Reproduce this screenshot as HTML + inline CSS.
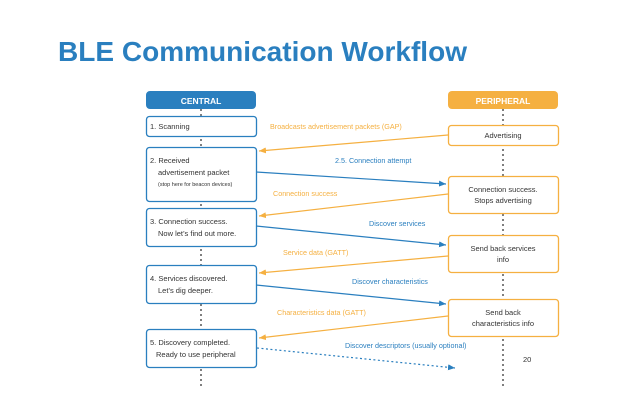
<!DOCTYPE html>
<html><head><meta charset="utf-8"><style>
html,body{margin:0;padding:0;background:#fff;}
svg{display:block;font-family:"Liberation Sans",sans-serif;}
</style></head><body>
<svg width="640" height="408" viewBox="0 0 640 408" xmlns="http://www.w3.org/2000/svg">
<defs>
<marker id="ab" markerWidth="8" markerHeight="8" refX="7" refY="4" orient="auto" markerUnits="userSpaceOnUse"><path d="M0,1 L7,4 L0,7 z" fill="#2a7fbf"/></marker>
<marker id="ao" markerWidth="8" markerHeight="8" refX="7" refY="4" orient="auto" markerUnits="userSpaceOnUse"><path d="M0,1 L7,4 L0,7 z" fill="#f5b041"/></marker>
</defs>
<text x="58" y="61" font-size="28" font-weight="bold" fill="#2a7fbf" textLength="409" lengthAdjust="spacingAndGlyphs">BLE Communication Workflow</text>
<line x1="201" y1="109" x2="201" y2="386" stroke="#555" stroke-width="1.5" stroke-dasharray="2,3"/>
<line x1="503" y1="109" x2="503" y2="386" stroke="#555" stroke-width="1.5" stroke-dasharray="2,3"/>
<rect x="146" y="91" width="110" height="18" rx="4" fill="#2a7fbf"/>
<text x="201" y="104" font-size="8.5" font-weight="bold" fill="#fff" text-anchor="middle">CENTRAL</text>
<rect x="448" y="91" width="110" height="18" rx="4" fill="#f5b041"/>
<text x="503" y="104" font-size="8.5" font-weight="bold" fill="#fff" text-anchor="middle">PERIPHERAL</text>
<g fill="#fff" stroke="#2a7fbf" stroke-width="1.3">
<rect x="146.5" y="116.5" width="110" height="20" rx="3"/>
<rect x="146.5" y="147.5" width="110" height="54" rx="3"/>
<rect x="146.5" y="208.5" width="110" height="38" rx="3"/>
<rect x="146.5" y="265.5" width="110" height="38" rx="3"/>
<rect x="146.5" y="329.5" width="110" height="38" rx="3"/>
</g>
<g fill="#fff" stroke="#f5b041" stroke-width="1.3">
<rect x="448.5" y="125.5" width="110" height="20" rx="3"/>
<rect x="448.5" y="176.5" width="110" height="37" rx="3"/>
<rect x="448.5" y="235.5" width="110" height="37" rx="3"/>
<rect x="448.5" y="299.5" width="110" height="37" rx="3"/>
</g>
<g font-size="7.5" fill="#333">
<text x="150" y="129">1. Scanning</text>
<text x="150" y="163">2. Received</text>
<text x="158" y="175">advertisement packet</text>
<text x="158" y="186" font-size="5.5">(stop here for beacon devices)</text>
<text x="150" y="224">3. Connection success.</text>
<text x="158" y="236">Now let’s find out more.</text>
<text x="150" y="281">4. Services discovered.</text>
<text x="158" y="293">Let’s dig deeper.</text>
<text x="150" y="345">5. Discovery completed.</text>
<text x="156" y="357">Ready to use peripheral</text>
<g text-anchor="middle">
<text x="503" y="138">Advertising</text>
<text x="503" y="192">Connection success.</text>
<text x="503" y="203">Stops advertising</text>
<text x="503" y="251">Send back services</text>
<text x="503" y="262">info</text>
<text x="503" y="315">Send back</text>
<text x="503" y="326">characteristics info</text>
</g>
<text x="523" y="362" font-size="7.5">20</text>
</g>
<g stroke-width="1.2" fill="none">
<line x1="448" y1="135" x2="259" y2="151" stroke="#f5b041" marker-end="url(#ao)"/>
<line x1="256" y1="172" x2="446" y2="184" stroke="#2a7fbf" marker-end="url(#ab)"/>
<line x1="448" y1="194" x2="259" y2="216" stroke="#f5b041" marker-end="url(#ao)"/>
<line x1="256" y1="226" x2="446" y2="245" stroke="#2a7fbf" marker-end="url(#ab)"/>
<line x1="448" y1="256" x2="259" y2="273" stroke="#f5b041" marker-end="url(#ao)"/>
<line x1="256" y1="285" x2="446" y2="304" stroke="#2a7fbf" marker-end="url(#ab)"/>
<line x1="448" y1="316" x2="259" y2="338" stroke="#f5b041" marker-end="url(#ao)"/>
<line x1="257" y1="348" x2="455" y2="368" stroke="#2a7fbf" stroke-dasharray="2,2.5" marker-end="url(#ab)"/>
</g>
<g font-size="7.2">
<text x="270" y="129" fill="#f5b041">Broadcasts advertisement packets (GAP)</text>
<text x="335" y="163" fill="#2a7fbf">2.5. Connection attempt</text>
<text x="273" y="196" fill="#f5b041">Connection success</text>
<text x="369" y="226" fill="#2a7fbf">Discover services</text>
<text x="283" y="255" fill="#f5b041">Service data (GATT)</text>
<text x="352" y="284" fill="#2a7fbf">Discover characteristics</text>
<text x="277" y="315" fill="#f5b041">Characteristics data (GATT)</text>
<text x="345" y="348" fill="#2a7fbf">Discover descriptors (usually optional)</text>
</g>
</svg>
</body></html>
